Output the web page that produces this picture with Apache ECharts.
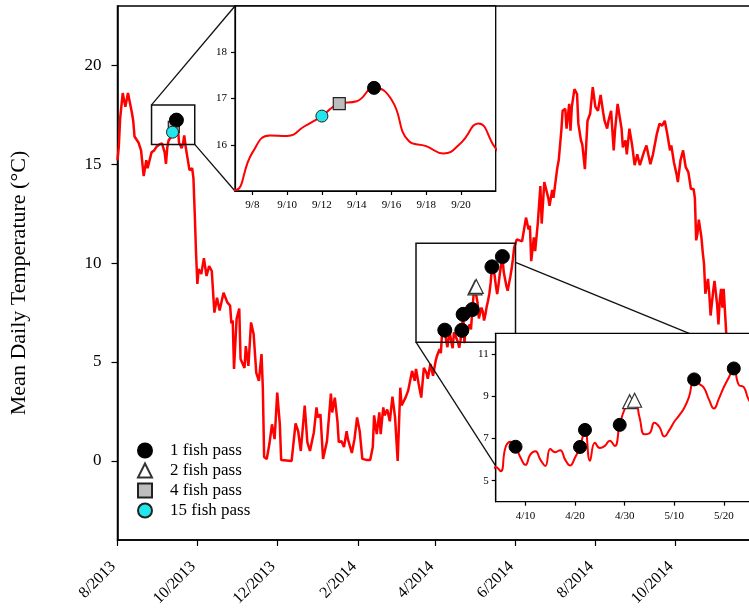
<!DOCTYPE html>
<html><head><meta charset="utf-8">
<script src="https://cdn.jsdelivr.net/npm/echarts@6/dist/echarts.min.js"></script>
<style>html,body{margin:0;padding:0;background:#fff}#c{width:749px;height:611px}</style>
</head><body><div id="c"></div>
<script>
// ---- data: days since 2013-08-01 and mean daily temperature (°C) ----
const dayOffsets = [0,1,2,4,6,8,11,12,13,16,18,20,22,23,26,28,30,32,34,35,36,
37,38,39,40,41,42,43,44,45,46,47,48,49,50,51,52,
53,55,57,58,59,60,61,62,64,66,68,70,72,74,76,78,81,84,86,87,88,89,91,93,94,97,98,100,102,104,106,108,110,111,112,114,116,118,120,122,124,125,126,133,136,138,140,143,145,147,150,152,153,155,157,160,163,164,166,168,169,171,173,175,176,179,181,183,185,187,190,193,195,196,198,200,201,203,204,206,208,210,212,214,216,217,220,222,225,227,228,230,232,234,236,237,239,241,243,244,245,
246,247,248,249,250,251,252,253,254,255,256,257,258,259,260,261,262,263,264,265,266,267,268,269,270,271,272,273,274,275,276,277,278,279,280,281,282,283,284,285,286,287,288,289,290,291,292,293,294,295,296,297,298,
299,300,301,302,303,305,309,310,312,314,315,316,318,319,321,323,324,326,329,330,332,333,335,336,337,339,340,342,343,345,346,347,349,351,352,354,355,357,359,361,363,365,367,369,371,372,374,375,377,379,380,382,385,386,388,389,391,393,395,397,399,402,404,407,409,412,414,416,418,420,422,423,425,427,428,430,432,434,436,437,438,440,441,442,443,444,446,447,448,449,451,452,453,455,456,458,459,460,461,462,463,465,467,469,471,473,476,478,481,484];
const dailyTemps = [15.2,15.9,17.3,18.6,17.9,18.6,17.6,17.2,16.4,16.1,15.7,14.4,15.2,14.8,15.6,15.7,15.9,16.0,16.05,16.0,15.6,
15.02,15.83,16.2,16.19,16.4,16.62,16.89,16.94,17.23,16.98,16.08,15.97,15.81,16.04,16.46,15.92,
15.5,14.7,14.8,14.3,12.5,10.5,8.95,9.7,9.45,10.25,9.35,9.85,9.6,7.5,8.25,7.6,8.5,8.0,7.85,6.95,7.1,4.65,7.2,7.7,5.15,4.7,5.8,4.8,7.0,6.4,4.45,4.05,5.4,3.7,0.2,0.1,0.85,1.85,1.1,3.45,1.85,0.05,0,0,1.9,1.5,0.5,2.8,0.95,0.5,1.45,2.7,2.2,2.35,0.1,1.0,3.4,2.45,3.2,2.0,0.95,1.0,0.7,1.5,1.1,0.4,1.1,2.2,1.5,0.1,0.05,0.05,0.7,2.3,1.35,2.45,1.35,2.7,2.3,2.6,2.0,3.25,2.2,0,3.7,2.8,3.2,3.55,4.55,4.05,4.65,3.9,3.2,4.7,4.45,4.15,4.9,4.3,5.05,5.3,5.4,
5.65,5.45,6.6,6.85,6.61,6.1,5.75,6.25,6.4,6.0,5.7,6.5,6.35,6.45,6.0,5.72,6.1,6.6,7.41,5.95,6.8,6.55,6.65,6.9,6.65,7.65,8.4,8.75,8.82,8.0,7.2,7.25,7.75,7.55,7.1,7.4,7.8,8.1,8.45,9.0,9.81,9.6,9.4,8.85,8.43,8.9,9.45,9.9,10.33,9.55,9.45,8.85,8.6,
8.95,9.3,9.7,10.2,10.8,11.2,11.1,11.5,12.3,11.7,11.9,10.1,11.3,10.6,12.0,13.9,12.0,14.1,13.3,12.9,13.7,13.3,14.35,14.85,15.2,16.7,17.7,17.8,16.8,18.05,16.7,17.9,18.8,18.55,17.05,16.2,16.0,14.75,17.2,17.55,18.9,17.9,17.7,18.5,17.6,17.2,16.8,17.2,17.7,15.7,16.7,18.05,16.8,15.85,16.2,15.5,16.8,16.0,14.95,15.5,14.95,15.6,15.95,15.0,15.5,16.55,17.05,16.95,17.2,16.5,15.7,15.95,15.1,14.5,14.1,15.2,15.7,14.85,14.6,14.7,13.75,13.75,13.3,11.15,11.5,12.2,11.3,10.55,9.95,8.45,9.2,8.45,7.35,8.6,9.1,7.9,6.9,8.1,8.7,7.75,8.7,6.4,5.8,6.3,5.4,5.0,5.6,4.8,4.5,4.9];

// fish passage dates
const pass1Dates  = ['2013-09-15','2014-04-08','2014-04-21','2014-04-22','2014-04-29','2014-05-14','2014-05-22'];
const pass2Dates  = ['2014-05-01','2014-05-02'];
const pass4Dates  = ['2013-09-13'];
const pass15Dates = ['2013-09-12'];

// ticks
const mainTickDates = ['2013-08-01','2013-10-01','2013-12-01','2014-02-01','2014-04-01','2014-06-01','2014-08-01','2014-10-01'];
const mainYTicks = [0,5,10,15,20];
const inset1TickDates = ['2013-09-08','2013-09-10','2013-09-12','2013-09-14','2013-09-16','2013-09-18','2013-09-20'];
const inset1YTicks = [16,17,18];
const inset2TickDates = ['2014-04-10','2014-04-20','2014-04-30','2014-05-10','2014-05-20'];
const inset2YTicks = [5,7,9,11];

// zoom boxes in main-plot data coordinates, and the range each inset shows
const zoomBox1 = {from:'2013-08-27', to:'2013-09-29', low:16, high:18};
const zoomBox2 = {from:'2014-03-17', to:'2014-06-01', low:6, high:11};
const inset1Range = {from:'2013-09-07', to:'2013-09-22', low:15, high:19};
const inset2Range = {from:'2014-04-04', to:'2014-06-01', low:4, high:12};

// ---- helpers ----
const FONT = "'Liberation Serif','Times New Roman',serif";
const EPOCH = Date.UTC(2013,7,1);
function day(s){const p=s.split('-').map(Number);return Math.round((Date.UTC(p[0],p[1]-1,p[2])-EPOCH)/86400000);}
function dayDate(n){return new Date(EPOCH + n*86400000);}
const tempByDay = {};
dayOffsets.forEach((d,i)=>{tempByDay[d]=dailyTemps[i];});
const mainData = dayOffsets.map((d,i)=>[d, dailyTemps[i]]);
function seg(a,b){return mainData.filter(p=>p[0]>=a&&p[0]<=b);}
function pts(dates){return dates.map(s=>[day(s), tempByDay[day(s)]]);}

const chart = echarts.init(document.getElementById('c'), null, {renderer:'canvas'});

function xAxisDef(gi, min, max, ticks, fmt, fs, z, tickLen, margin){
  return {type:'value', gridIndex:gi, min:min, max:max, z:z,
    axisLine:{show:true, onZero:false, lineStyle:{color:'#000', width: gi===0?1.5:1.2}},
    axisTick:{show:true, inside:false, length:tickLen, customValues:ticks, lineStyle:{color:'#000', width:1.2}},
    axisLabel:{show:true, customValues:ticks, formatter:fmt, fontFamily:FONT, fontSize:fs, color:'#000', margin:margin,
      rotate: gi===0?45:0, padding: gi===0?[0,6,0,0]:0, showMinLabel:true, showMaxLabel:true},
    splitLine:{show:false}, minorTick:{show:false}};
}
function yAxisDef(gi, min, max, ticks, fs, z, tickLen, margin, name){
  const o = {type:'value', gridIndex:gi, min:min, max:max, z:z,
    axisLine:{show:true, onZero:false, lineStyle:{color:'#000', width: gi===0?1.5:1.2}},
    axisTick:{show:true, inside:false, length:tickLen, customValues:ticks, lineStyle:{color:'#000', width:1.2}},
    axisLabel:{show:true, customValues:ticks, fontFamily:FONT, fontSize:fs, color:'#000', margin:margin},
    splitLine:{show:false}};
  if(name){o.name=name;o.nameLocation='middle';o.nameGap=87;o.nameTextStyle={fontFamily:FONT,fontSize:22,color:'#000',padding:[0,20,0,0]};}
  return o;
}
const fmtMY = v=>{const d=dayDate(v);return (d.getUTCMonth()+1)+'/'+d.getUTCFullYear();};
const fmtMD = v=>{const d=dayDate(v);return (d.getUTCMonth()+1)+'/'+d.getUTCDate();};

const cats = [
  {name:'4 fish pass', dates:pass4Dates, symbol:'rect', fill:'#bdbdbd', border:'#222', bw:1.2, sizes:[11,12,12]},
  {name:'1 fish pass', dates:pass1Dates, symbol:'circle', fill:'#000', border:'#000', bw:1, sizes:[14,13,13]},
  {name:'2 fish pass', dates:pass2Dates, symbol:'triangle', fill:'#fff', border:'#333', bw:1.2, sizes:[14,14,14]},
  {name:'15 fish pass', dates:pass15Dates, symbol:'circle', fill:'#22e6ee', border:'#222', bw:1, sizes:[12,12,12]}
];
const scatterSeries = [];
cats.forEach(c=>{
  [0,1,2].forEach(gi=>{
    scatterSeries.push({type:'scatter', name:c.name, xAxisIndex:gi, yAxisIndex:gi, data:pts(c.dates),
      symbol:c.symbol, symbolSize:c.sizes[gi], clip:true, z: gi===0?3:7, silent:true,
      itemStyle:{color:c.fill, borderColor:c.border, borderWidth:c.bw, opacity:1}});
  });
});

const option = {
  animation:false,
  backgroundColor:'#fff',
  grid:[
    {left:117.5, top:6, width:637.6, height:534, show:true, borderColor:'#000', borderWidth:1.5, backgroundColor:'transparent', z:0, containLabel:false, outerBoundsMode:'none'},
    {left:235, top:6, width:260.7, height:185, show:true, borderColor:'#000', borderWidth:1.3, backgroundColor:'#fff', z:5, containLabel:false, outerBoundsMode:'none'},
    {left:495.7, top:333.3, width:287.7, height:168.4, show:true, borderColor:'#000', borderWidth:1.3, backgroundColor:'#fff', z:5, containLabel:false, outerBoundsMode:'none'}
  ],
  xAxis:[
    xAxisDef(0, day('2013-08-01'), day('2014-12-01'), mainTickDates.map(day), fmtMY, 16, 1, 6, 20),
    xAxisDef(1, day(inset1Range.from), day(inset1Range.to), inset1TickDates.map(day), fmtMD, 11, 6, 4, 9),
    xAxisDef(2, day(inset2Range.from), day(inset2Range.to), inset2TickDates.map(day), fmtMD, 11, 6, 4, 9)
  ],
  yAxis:[
    yAxisDef(0, -4, 23, mainYTicks, 17, 1, 6, 16, 'Mean Daily Temperature (°C)'),
    yAxisDef(1, inset1Range.low, inset1Range.high, inset1YTicks, 11, 6, 4, 8),
    yAxisDef(2, inset2Range.low, inset2Range.high, inset2YTicks, 11, 6, 4, 7)
  ],
  legend:{orient:'vertical', left:132, top:437, itemWidth:14, itemHeight:14, itemGap:3, selectedMode:false,
    textStyle:{fontFamily:FONT, fontSize:17, color:'#000', padding:[0,0,0,13]},
    data:[{name:'1 fish pass', icon:'circle'},{name:'2 fish pass', icon:'triangle'},{name:'4 fish pass', icon:'rect'},{name:'15 fish pass', icon:'circle'}]},
  series:[
    {type:'line', name:'temp', xAxisIndex:0, yAxisIndex:0, data:mainData, showSymbol:false, symbol:'none', z:2, silent:true,
      lineStyle:{color:'#ff0000', width:2.5}},
    {type:'line', name:'inset1', xAxisIndex:1, yAxisIndex:1, data:seg(35,54), showSymbol:false, symbol:'none', smooth:0.5, z:6, clip:true, silent:true,
      lineStyle:{color:'#ff0000', width:2}},
    {type:'line', name:'inset2', xAxisIndex:2, yAxisIndex:2, data:seg(244,306), showSymbol:false, symbol:'none', smooth:0.5, z:6, clip:true, silent:true,
      lineStyle:{color:'#ff0000', width:2}}
  ].concat(scatterSeries)
};
chart.setOption(option);

// zoom boxes and connector lines, positioned through the axes
function px(gi, date, v){return chart.convertToPixel({gridIndex:gi},[day(date), v]);}
const b1a = px(0, zoomBox1.from, zoomBox1.high), b1b = px(0, zoomBox1.to, zoomBox1.low);
const b2a = px(0, zoomBox2.from, zoomBox2.high), b2b = px(0, zoomBox2.to, zoomBox2.low);
const i1tl = px(1, inset1Range.from, inset1Range.high), i1bl = px(1, inset1Range.from, inset1Range.low);
const i2left = px(2, inset2Range.from, 5.7), i2top = px(2, '2014-05-13', inset2Range.high);
const b2right = px(0, zoomBox2.to, 10.04);
const ls = {stroke:'#111', lineWidth:1.3};
chart.setOption({graphic:[
  {type:'rect', z:3, silent:true, shape:{x:b1a[0], y:b1a[1], width:b1b[0]-b1a[0], height:b1b[1]-b1a[1]}, style:{fill:null, stroke:'#111', lineWidth:1.5}},
  {type:'rect', z:3, silent:true, shape:{x:b2a[0], y:b2a[1], width:b2b[0]-b2a[0], height:b2b[1]-b2a[1]}, style:{fill:null, stroke:'#111', lineWidth:1.5}},
  {type:'line', z:3, silent:true, shape:{x1:b1a[0], y1:b1a[1], x2:i1tl[0], y2:i1tl[1]}, style:ls},
  {type:'line', z:3, silent:true, shape:{x1:b1b[0], y1:b1b[1], x2:i1bl[0], y2:i1bl[1]}, style:ls},
  {type:'line', z:3, silent:true, shape:{x1:b2a[0], y1:b2b[1], x2:i2left[0], y2:i2left[1]}, style:ls},
  {type:'line', z:3, silent:true, shape:{x1:b2right[0], y1:b2right[1], x2:i2top[0], y2:i2top[1]}, style:ls}
]});
</script>
</body></html>
